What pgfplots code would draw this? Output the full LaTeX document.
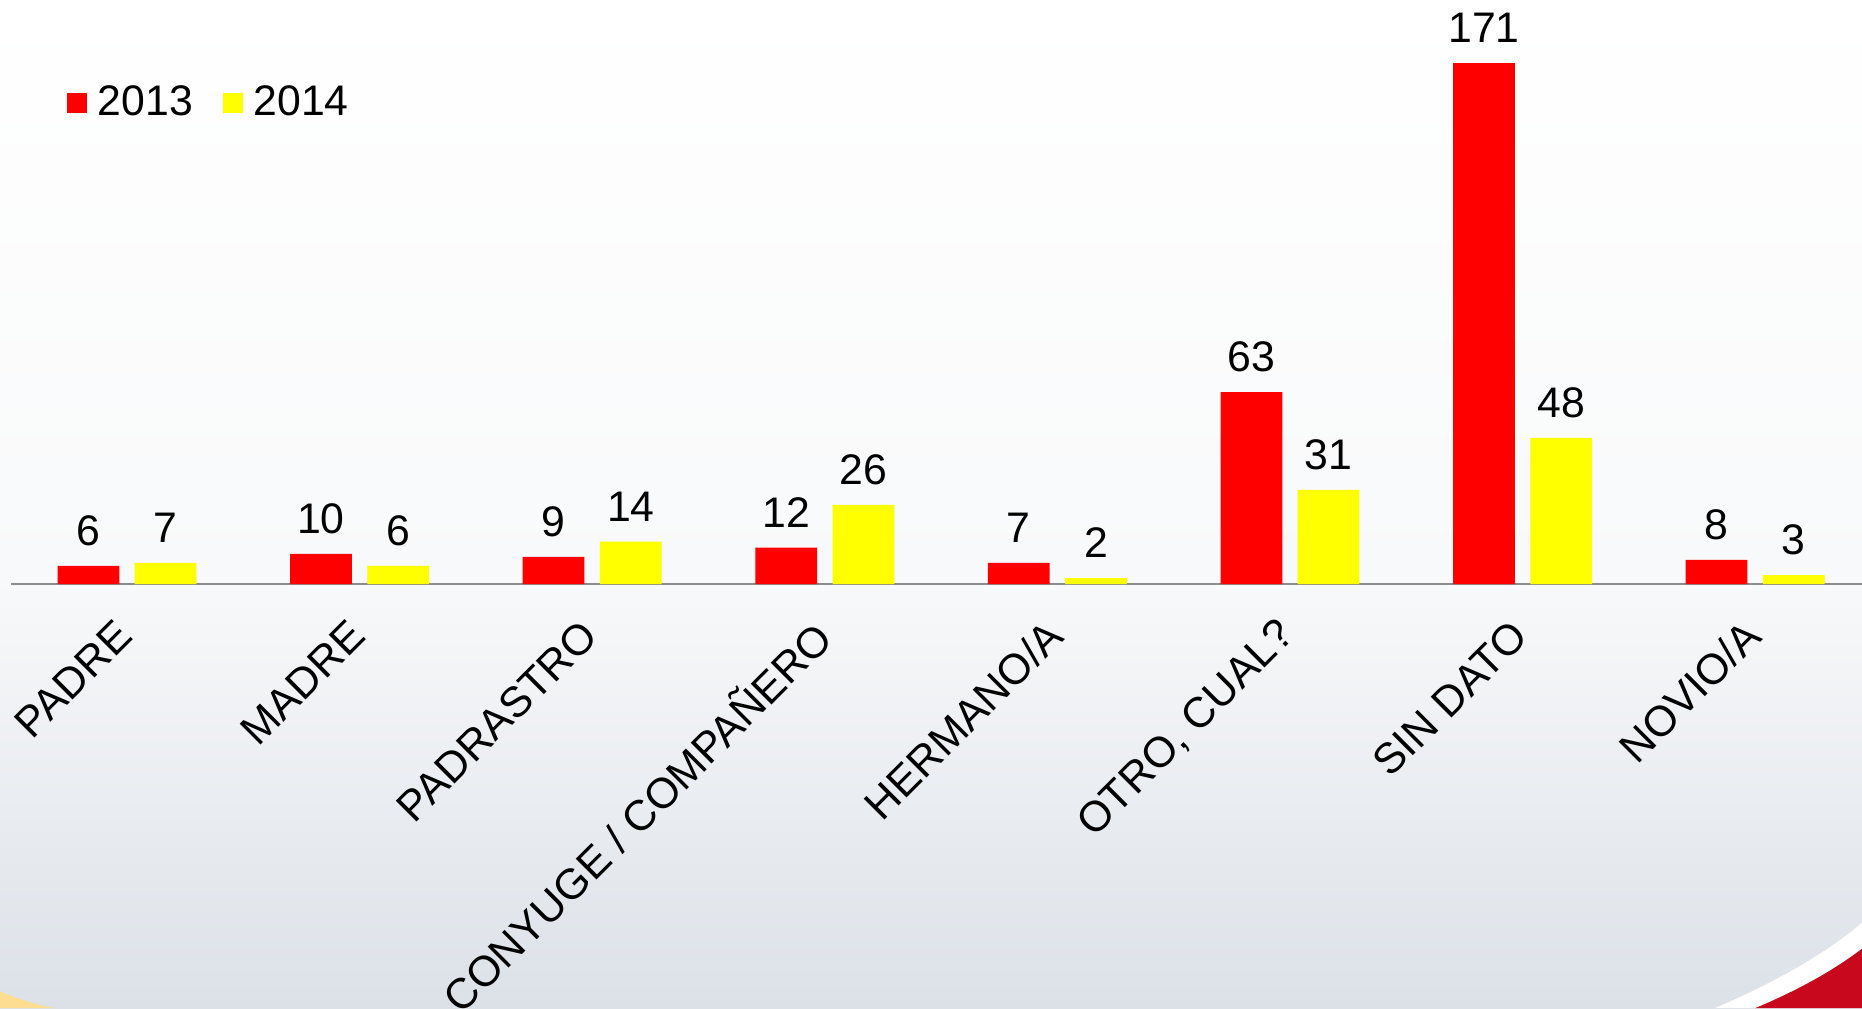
\documentclass[border=0pt]{standalone}
\usepackage{fontspec}
\setmainfont{Liberation Sans}
\usepackage{pgfplots}
\pgfplotsset{compat=1.18}
\definecolor{barred}{RGB}{255,0,0}
\definecolor{baryellow}{RGB}{255,255,0}
\definecolor{axgray}{RGB}{140,140,140}
\definecolor{bgbottom}{RGB}{220,225,232}
\definecolor{bgmid}{RGB}{248,249,250}
\definecolor{swred}{RGB}{200,8,28}
\begin{document}
\begin{tikzpicture}
\shade[top color=white, bottom color=bgmid] (0,180pt) rectangle (784pt,424.5pt);
\shade[top color=bgmid, bottom color=bgbottom] (0,0) rectangle (784pt,180.2pt);
\fill[white] (722pt,0) .. controls (750pt,12pt) and (770pt,24pt) .. (784pt,36pt) -- (784pt,0) -- cycle;
\fill[swred] (739pt,0) .. controls (758pt,8pt) and (772pt,16pt) .. (784pt,25pt) -- (784pt,0) -- cycle;
\fill[yellow!40!orange!40] (0,7pt) .. controls (8pt,4pt) and (16pt,1pt) .. (24pt,0) -- (0,0) -- cycle;
\begin{axis}[
  at={(4.5pt,178.5pt)}, anchor=south west,
  scale only axis, width=783.5pt, height=246pt,
  xmin=-0.5, xmax=7.5, ymin=0, ymax=191.7,
  ybar=6.5pt, bar width=26pt,
  axis x line*=bottom, axis y line=none,
  x axis line style={-, draw=axgray, line width=1pt},
  xtick={0,...,7}, major tick length=0pt,
  xticklabels={PADRE, MADRE, PADRASTRO, CONYUGE / COMPAÑERO, HERMANO/A, {OTRO, CUAL?}, SIN DATO, NOVIO/A},
  xticklabel style={xshift=1.4pt, yshift=-16.1pt, rotate=45, anchor=east, font=\fontsize{18}{20}\selectfont},
  ytick=\empty,
  clip=false,
  /pgf/number format/assume math mode=true,
  nodes near coords,
  every node near coord/.append style={font=\fontsize{18}{20}\selectfont, text=black, yshift=5pt},
  legend columns=-1,
  legend style={at={(0.0300,0.824)}, anchor=west, draw=none, fill=none, inner sep=0pt,
    font=\fontsize{18}{20}\selectfont,
    /tikz/every odd column/.append style={column sep=2.5pt},
    /tikz/every even column/.append style={column sep=10.5pt}},
]
\addplot[fill=barred, draw=none, legend image code/.code={\fill[barred] (0pt,-4.25pt) rectangle (8.5pt,4.25pt);}]
  coordinates {(0,6) (1,10) (2,9) (3,12) (4,7) (5,63) (6,171) (7,8)};
\addplot[fill=baryellow, draw=none, legend image code/.code={\fill[baryellow] (0pt,-4.25pt) rectangle (8.5pt,4.25pt);}]
  coordinates {(0,7) (1,6) (2,14) (3,26) (4,2) (5,31) (6,48) (7,3)};
\legend{2013, 2014}
\end{axis}
\pgfresetboundingbox
\path (0,0) rectangle (784pt,424.5pt);
\end{tikzpicture}
\end{document}
